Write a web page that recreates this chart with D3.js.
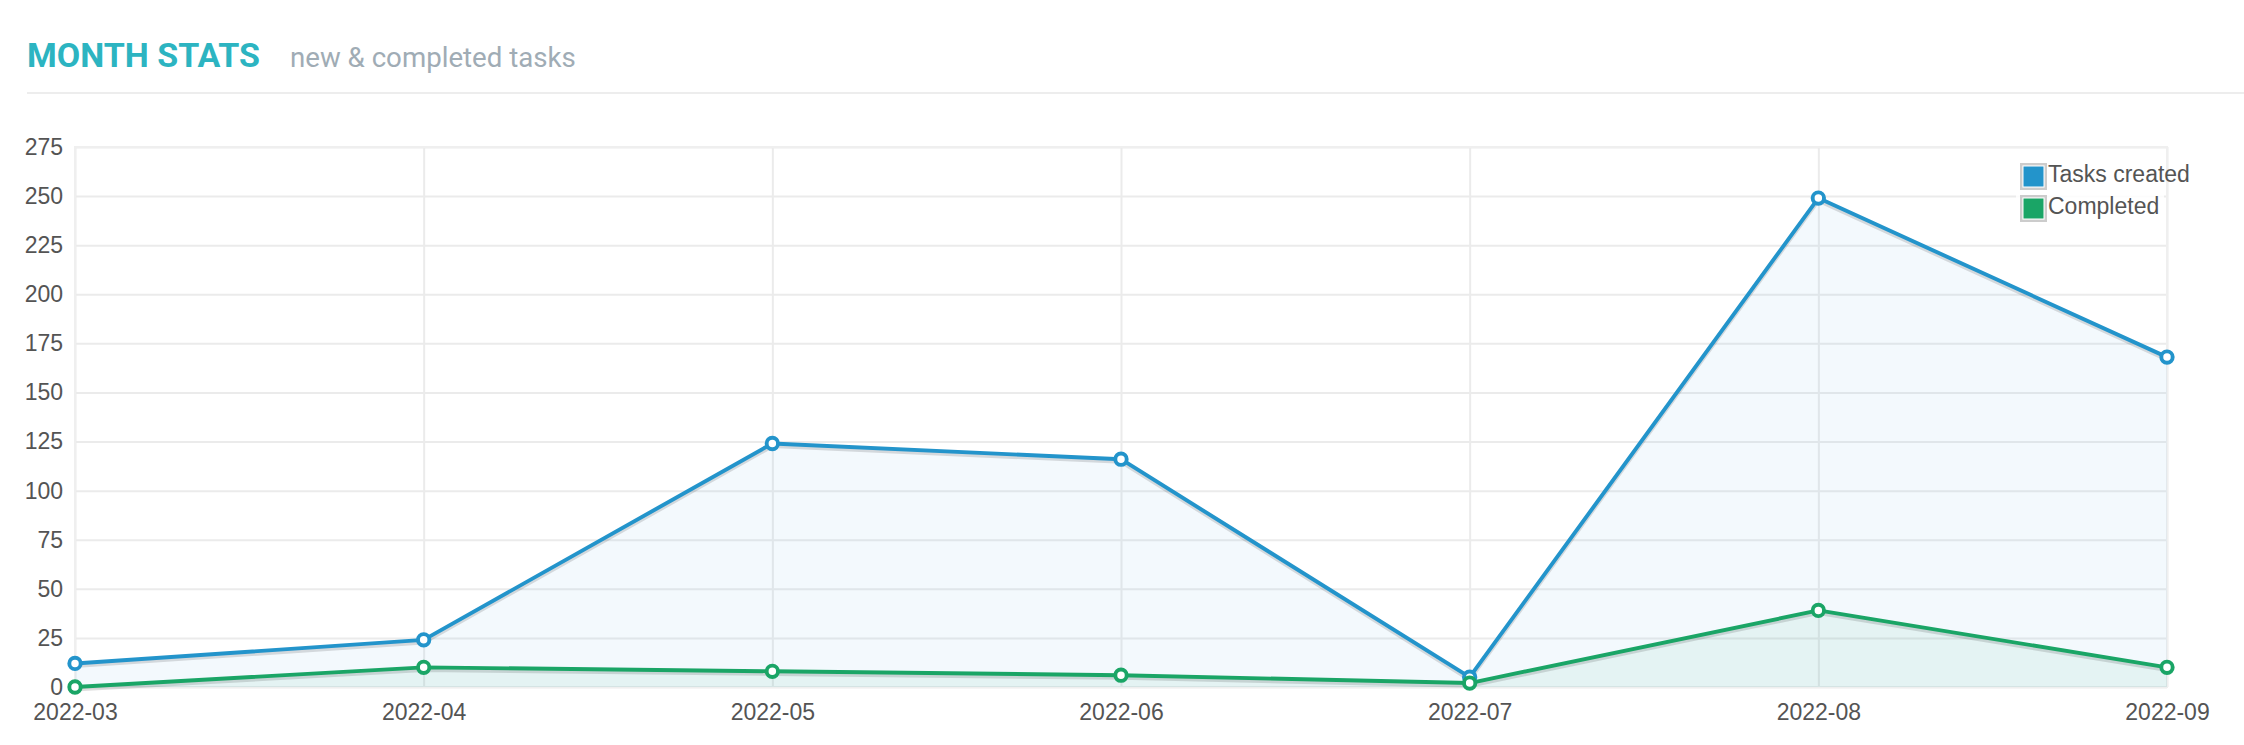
<!DOCTYPE html>
<html>
<head>
<meta charset="utf-8">
<script src="https://cdn.jsdelivr.net/npm/d3@7/dist/d3.min.js"></script>
<style>
  html, body { margin: 0; padding: 0; background: #ffffff; }
  svg { display: block; }
</style>
</head>
<body>
<svg id="chart" width="2244" height="745"></svg>
<script>
// ---- data ----
const months = ["2022-03", "2022-04", "2022-05", "2022-06", "2022-07", "2022-08", "2022-09"];
const tasksCreated = [12, 24, 124, 116, 5, 249, 168];
const completed = [0, 10, 8, 6, 2, 39, 10];
const yTicks = [0, 25, 50, 75, 100, 125, 150, 175, 200, 225, 250, 275];
const seriesNames = ["Tasks created", "Completed"];
const seriesColors = ["#2394cb", "#1aa566"];
const titleText = "MONTH STATS";
const subtitleText = "new & completed tasks";

// ---- layout ----
const W = 2244, H = 745;
const plot = { left: 75, right: 2167, top: 147, bottom: 687 };
const svg = d3.select("#chart");

function fitWidth(sel, target) {
  const w = sel.node().getComputedTextLength();
  const fs = +sel.attr("font-size");
  sel.attr("font-size", (fs * target / w).toFixed(2));
}

// header
const title = svg.append("text")
  .attr("x", 27).attr("y", 67)
  .attr("font-family", "Roboto, 'Noto Sans', sans-serif")
  .attr("font-weight", 700)
  .attr("font-size", 34)
  .attr("fill", "#2cb4c1")
  .text(titleText);
fitWidth(title, 233);

const sub = svg.append("text")
  .attr("x", 290).attr("y", 67)
  .attr("font-family", "Roboto, 'Noto Sans', sans-serif")
  .attr("font-weight", 400)
  .attr("font-size", 27)
  .attr("fill", "#a0acb5")
  .text(subtitleText);
fitWidth(sub, 286);

svg.append("rect")
  .attr("x", 27).attr("y", 92).attr("width", W - 27).attr("height", 2)
  .attr("fill", "#ededed");

// ---- scales ----
const x = d3.scalePoint().domain(months).range([plot.left, plot.right]);
const y = d3.scaleLinear().domain([0, 275]).range([plot.bottom, plot.top]);

const fontFam = "'Liberation Sans', Arial, sans-serif";

// grid + axes
const yAxis = svg.append("g")
  .attr("transform", `translate(${plot.left},0)`)
  .call(d3.axisLeft(y).tickValues(yTicks).tickSize(-(plot.right - plot.left)).tickPadding(12));
const xAxis = svg.append("g")
  .attr("transform", `translate(0,${plot.bottom})`)
  .call(d3.axisBottom(x).tickSize(-(plot.bottom - plot.top)).tickPadding(17));

[yAxis, xAxis].forEach(g => {
  g.select(".domain").remove();
  g.selectAll(".tick line").attr("stroke", "#ebebeb").attr("stroke-width", 2);
  g.selectAll(".tick text")
    .attr("fill", "#545454")
    .attr("font-family", fontFam)
    .attr("font-size", 23);
});

// plot border
svg.append("rect")
  .attr("x", plot.left).attr("y", plot.top)
  .attr("width", plot.right - plot.left).attr("height", plot.bottom - plot.top)
  .attr("fill", "none").attr("stroke", "#efefef").attr("stroke-width", 2);

// ---- series ----
const series = [tasksCreated, completed];
const fills = ["rgba(35,148,215,0.055)", "rgba(26,165,110,0.065)"];

const area = d3.area()
  .x((d, i) => x(months[i]))
  .y0(y(0))
  .y1(d => y(d));
const line = d3.line()
  .x((d, i) => x(months[i]))
  .y(d => y(d));

series.forEach((vals, k) => {
  svg.append("path").attr("d", area(vals)).attr("fill", fills[k]);
});

series.forEach((vals, k) => {
  const g = svg.append("g");
  g.append("path").attr("d", line(vals))
    .attr("transform", "translate(0,2.8)")
    .attr("fill", "none").attr("stroke", "rgba(0,0,0,0.13)")
    .attr("stroke-width", 3.6).attr("stroke-linejoin", "round");
  g.append("path").attr("d", line(vals))
    .attr("fill", "none").attr("stroke", seriesColors[k])
    .attr("stroke-width", 3.9).attr("stroke-linejoin", "round");
});

series.forEach((vals, k) => {
  svg.append("g").selectAll("circle")
    .data(vals)
    .join("circle")
    .attr("cx", (d, i) => x(months[i]))
    .attr("cy", d => y(d))
    .attr("r", 5.7)
    .attr("fill", "#ffffff")
    .attr("stroke", seriesColors[k])
    .attr("stroke-width", 3.9);
});

// ---- legend ----
const lg = svg.append("g");
lg.append("rect")
  .attr("x", 2016).attr("y", 158).attr("width", 148).attr("height", 68)
  .attr("fill", "#ffffff").attr("opacity", 0.85);
seriesNames.forEach((name, k) => {
  const y0 = 164 + k * 32;
  lg.append("rect")
    .attr("x", 2021.2).attr("y", y0 + 0.2).attr("width", 24.6).attr("height", 24.6)
    .attr("fill", "#ffffff").attr("stroke", "#cccccc").attr("stroke-width", 2.4);
  lg.append("rect")
    .attr("x", 2023.5).attr("y", y0 + 2.5).attr("width", 20).attr("height", 20)
    .attr("fill", seriesColors[k]);
  lg.append("text")
    .attr("x", 2048).attr("y", y0 + 18)
    .attr("font-family", fontFam).attr("font-size", 23)
    .attr("fill", "#545454")
    .text(name);
});
</script>
</body>
</html>
